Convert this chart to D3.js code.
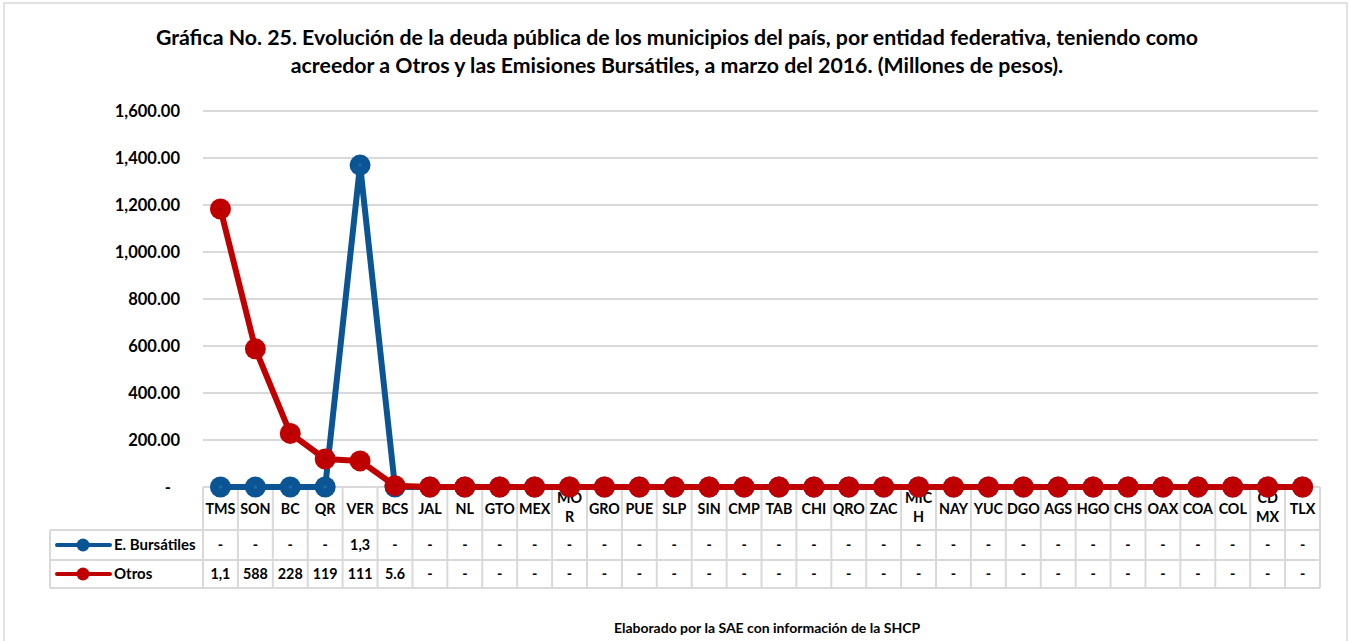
<!DOCTYPE html>
<html><head><meta charset="utf-8">
<script src="https://cdn.jsdelivr.net/npm/d3@7"></script>
<style>
body{margin:0;background:#fff}
svg{display:block}
text{font-family:Lato,'Open Sans',sans-serif;font-weight:bold;fill:#000}
</style>
</head><body>
<svg id="chart" width="1349" height="641"></svg>
<script>
const categories = ["TMS","SON","BC","QR","VER","BCS","JAL","NL","GTO","MEX","MOR","GRO","PUE","SLP","SIN","CMP","TAB","CHI","QRO","ZAC","MICH","NAY","YUC","DGO","AGS","HGO","CHS","OAX","COA","COL","CDMX","TLX"];
const categoryLabels = ["TMS","SON","BC","QR","VER","BCS","JAL","NL","GTO","MEX","MO\nR","GRO","PUE","SLP","SIN","CMP","TAB","CHI","QRO","ZAC","MIC\nH","NAY","YUC","DGO","AGS","HGO","CHS","OAX","COA","COL","CD\nMX","TLX"];
const bursatiles = [0,0,0,0,1370,0,0,0,0,0,0,0,0,0,0,0,0,0,0,0,0,0,0,0,0,0,0,0,0,0,0,0];
const otros = [1183,588,228,119,111,5.6,0,0,0,0,0,0,0,0,0,0,0,0,0,0,0,0,0,0,0,0,0,0,0,0,0,0];
const seriesNames = ["E. Bursátiles","Otros"];
const seriesColors = ["#0B5595","#C00000"];
const yTicks = [0,200,400,600,800,1000,1200,1400,1600];
const titleLines = ["Gráfica No. 25. Evolución de la deuda pública de los municipios del país, por entidad federativa, teniendo como",
                    "acreedor a Otros y las Emisiones Bursátiles, a marzo del 2016. (Millones de pesos)."];
const footerText = "Elaborado por la SAE con información de la SHCP";

const svg = d3.select("#chart");
const gridColor = "#d9d9d9";
const L = 203, R = 1320, Y0 = 487, Y1 = 111;
const tableLeft = 50, rowTops = [530, 560, 588];

// outer frame
svg.append("rect").attr("x",4).attr("y",3).attr("width",1343).attr("height",660)
  .attr("fill","none").attr("stroke",gridColor).attr("stroke-width",1.5);

// title
const title = svg.append("text").attr("text-anchor","middle").style("font-size","21.3px");
titleLines.forEach((t,i)=> title.append("tspan").attr("x",677).attr("y",45 + i*28).text(t));

const x = d3.scaleBand().domain(categories).range([L,R]);
const y = d3.scaleLinear().domain([0,1600]).range([Y0,Y1]);

// grid
svg.append("g").selectAll("line").data(yTicks.filter(d=>d>0)).join("line")
  .attr("x1",L).attr("x2",R-2).attr("y1",d=>y(d)).attr("y2",d=>y(d))
  .attr("stroke",gridColor).attr("stroke-width",2);

// y axis
const yAxis = svg.append("g").attr("transform",`translate(180,0)`)
  .call(d3.axisLeft(y).tickValues(yTicks).tickSize(0).tickPadding(0)
    .tickFormat(d => d===0 ? "-" : d3.format(",.2f")(d)));
yAxis.select(".domain").remove();
yAxis.selectAll("text").style("font-size","16.5px").style("font-family","Lato,'Open Sans',sans-serif")
  .attr("dx", d => d===0 ? -9 : 0);

// table lines
const tg = svg.append("g").attr("stroke",gridColor).attr("stroke-width",2);
tg.append("line").attr("x1",L).attr("x2",R).attr("y1",Y0).attr("y2",Y0);
rowTops.forEach(yy => tg.append("line").attr("x1",tableLeft).attr("x2",R).attr("y1",yy).attr("y2",yy));
tg.append("line").attr("x1",tableLeft).attr("x2",tableLeft).attr("y1",rowTops[0]).attr("y2",rowTops[2]);
const bounds = categories.map(c=>x(c)).concat([R]);
tg.selectAll(".v").data(bounds).join("line").attr("class","v")
  .attr("x1",d=>d).attr("x2",d=>d).attr("y1",Y0).attr("y2",rowTops[2]);

// category labels
const cl = svg.append("g").selectAll("text").data(categories).join("text")
  .attr("text-anchor","middle").style("font-size","14.3px")
  .attr("transform",d=>`translate(${x(d)+x.bandwidth()/2},0)`);
cl.each(function(d,i){
  const parts = categoryLabels[i].split("\n");
  const sel = d3.select(this);
  parts.forEach((p,j)=>{
    const yy = parts.length===1 ? 514 : 503 + j*19;
    sel.append("tspan").attr("x",0).attr("y",yy).text(p);
  });
});

// table values
const series = [bursatiles, otros];
const fmtCell = v => v===0 ? "-" : d3.format(",.1f")(v).slice(0,3);
series.forEach((vals,si)=>{
  const cy = (rowTops[si]+rowTops[si+1])/2 + 5;
  svg.append("g").selectAll("text").data(vals).join("text")
    .attr("text-anchor","middle").style("font-size","14.3px")
    .attr("x",(d,i)=>x(categories[i])+x.bandwidth()/2).attr("y",cy)
    .text(fmtCell);
  // legend
  const ly = (rowTops[si]+rowTops[si+1])/2;
  svg.append("line").attr("x1",57).attr("x2",110).attr("y1",ly).attr("y2",ly)
    .attr("stroke",seriesColors[si]).attr("stroke-width",4).attr("stroke-linecap","round");
  svg.append("circle").attr("cx",83).attr("cy",ly).attr("r",6.5).attr("fill",seriesColors[si]);
  svg.append("text").attr("x",114).attr("y",ly+5).style("font-size","15px").text(seriesNames[si]);
});

// lines
const line = d3.line().x((d,i)=>x(categories[i])+x.bandwidth()/2).y(d=>y(d));
series.forEach((vals,si)=>{
  const g = svg.append("g");
  g.append("path").datum(vals).attr("d",line).attr("fill","none")
    .attr("stroke",seriesColors[si]).attr("stroke-width",6).attr("stroke-linejoin","round");
  g.selectAll("circle.m").data(vals).join("circle").attr("class","m")
    .attr("cx",(d,i)=>x(categories[i])+x.bandwidth()/2).attr("cy",d=>y(d))
    .attr("r",10.5).attr("fill",seriesColors[si]);
  g.selectAll("circle.c").data(vals).join("circle").attr("class","c")
    .attr("cx",(d,i)=>x(categories[i])+x.bandwidth()/2).attr("cy",d=>y(d))
    .attr("r",1.8).attr("fill",si===0?"#1d6aa8":"#a80000");
});

// footer
svg.append("text").attr("x",767).attr("y",633).attr("text-anchor","middle")
  .style("font-size","14px").text(footerText);
</script>
</body></html>
